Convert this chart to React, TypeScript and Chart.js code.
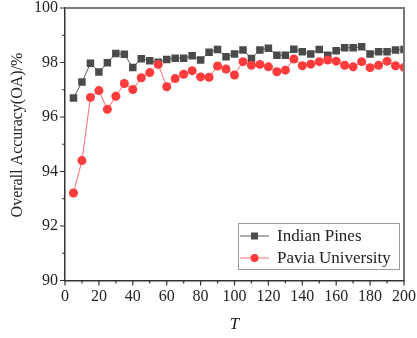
import React, { useEffect, useRef } from "react";
import { Chart, registerables } from "chart.js";

Chart.register(...registerables);

const tValues = [5, 10, 15, 20, 25, 30, 35, 40, 45, 50, 55, 60, 65, 70, 75, 80, 85, 90, 95, 100,
  105, 110, 115, 120, 125, 130, 135, 140, 145, 150, 155, 160, 165, 170, 175, 180, 185, 190, 195, 200];

const indianPines = [96.70, 97.28, 97.97, 97.65, 97.99, 98.33, 98.30, 97.82, 98.14, 98.06,
  98.01, 98.11, 98.16, 98.16, 98.25, 98.09, 98.38, 98.48, 98.21, 98.31,
  98.46, 98.15, 98.46, 98.52, 98.27, 98.27, 98.49, 98.39, 98.31, 98.48,
  98.27, 98.43, 98.54, 98.54, 98.58, 98.31, 98.39, 98.39, 98.46, 98.48];

const paviaUniversity = [93.21, 94.40, 96.72, 96.97, 96.28, 96.76, 97.23, 97.01, 97.44, 97.63,
  97.93, 97.11, 97.41, 97.57, 97.70, 97.47, 97.46, 97.87, 97.76, 97.54,
  98.03, 97.90, 97.93, 97.84, 97.66, 97.72, 98.13, 97.88, 97.94, 98.03,
  98.09, 98.05, 97.90, 97.84, 98.03, 97.81, 97.90, 98.05, 97.88, 97.82];

const seriesNames = ["Indian Pines", "Pavia University"];
const xTickValues = [0, 20, 40, 60, 80, 100, 120, 140, 160, 180, 200];
const yTickValues = [90, 92, 94, 96, 98, 100];
const yTitle = "Overall Accuracy(OA)/%";
const xTitle = "T";

const SERIF = "'Liberation Serif', 'Times New Roman', serif";
const GRAY_LINE = "#5a5a5a";
const GRAY_MARK = "#4a4a4a";
const RED_LINE = "#ff6b6b";
const RED_MARK = "#ff3b3b";

const zeroPad = (s: any) => {
  s.paddingTop = 0;
  s.paddingBottom = 0;
  s.paddingLeft = 0;
  s.paddingRight = 0;
};

const decorPlugin = {
  id: "decor",
  afterDraw(chart: any) {
    const { ctx, chartArea, scales } = chart;
    const xs = scales.x;
    const ys = scales.y;
    ctx.save();
    // top and right border
    ctx.strokeStyle = "#7a7a7a";
    ctx.lineWidth = 2;
    ctx.beginPath();
    ctx.moveTo(chartArea.left, chartArea.top);
    ctx.lineTo(chartArea.right, chartArea.top);
    ctx.lineTo(chartArea.right, chartArea.bottom);
    ctx.stroke();

    // ticks
    ctx.strokeStyle = "#333";
    ctx.lineWidth = 1.2;
    ctx.beginPath();
    for (let v = 0; v <= 200; v += 10) {
      const px = xs.getPixelForValue(v);
      const len = v % 20 === 0 ? 5 : 3;
      ctx.moveTo(px, chartArea.bottom);
      ctx.lineTo(px, chartArea.bottom + len);
    }
    for (let v = 90; v <= 100; v += 1) {
      const py = ys.getPixelForValue(v);
      const len = v % 2 === 0 ? 5 : 3;
      ctx.moveTo(chartArea.left, py);
      ctx.lineTo(chartArea.left - len, py);
    }
    ctx.stroke();

    // axis titles
    ctx.fillStyle = "#222";
    ctx.textAlign = "center";
    ctx.textBaseline = "middle";
    ctx.font = `16px ${SERIF}`;
    ctx.save();
    ctx.translate(18, 135);
    ctx.rotate(-Math.PI / 2);
    ctx.fillText(yTitle, 0, 0);
    ctx.restore();
    ctx.font = `italic 17px ${SERIF}`;
    ctx.fillText(xTitle, (chartArea.left + chartArea.right) / 2, 325);

    // legend
    const bx = 238, by = 223, bw = 161, bh = 46;
    ctx.fillStyle = "#fff";
    ctx.fillRect(bx, by, bw, bh);
    ctx.strokeStyle = "#999";
    ctx.lineWidth = 1;
    ctx.strokeRect(bx + 0.5, by + 0.5, bw, bh);
    const rows = [
      { y: 236, line: GRAY_LINE, mark: GRAY_MARK, square: true },
      { y: 258, line: RED_LINE, mark: RED_MARK, square: false },
    ];
    rows.forEach((r, i) => {
      ctx.strokeStyle = r.line;
      ctx.lineWidth = 1;
      ctx.beginPath();
      ctx.moveTo(240, r.y);
      ctx.lineTo(269, r.y);
      ctx.stroke();
      ctx.fillStyle = r.mark;
      if (r.square) {
        ctx.fillRect(254.5 - 3.5, r.y - 3.5, 7, 7);
      } else {
        ctx.beginPath();
        ctx.arc(254.5, r.y, 4, 0, Math.PI * 2);
        ctx.fill();
      }
      ctx.fillStyle = "#222";
      ctx.textAlign = "left";
      ctx.font = `17px ${SERIF}`;
      ctx.fillText(seriesNames[i], 277, r.y + 1);
    });
    ctx.restore();
  },
};

export default function App() {
  const ref = useRef<HTMLCanvasElement | null>(null);
  useEffect(() => {
    document.body.style.margin = "0";
    const canvas = ref.current;
    if (!canvas) return;
    const chart = new Chart(canvas, {
      type: "line",
      data: {
        datasets: [
          {
            label: seriesNames[0],
            data: tValues.map((t, i) => ({ x: t, y: indianPines[i] })),
            borderColor: GRAY_LINE,
            borderWidth: 1,
            backgroundColor: GRAY_MARK,
            pointBackgroundColor: GRAY_MARK,
            pointBorderColor: GRAY_MARK,
            pointStyle: "rect",
            pointRadius: 5.3,
            pointBorderWidth: 0,
            order: 2,
          },
          {
            label: seriesNames[1],
            data: tValues.map((t, i) => ({ x: t, y: paviaUniversity[i] })),
            borderColor: RED_LINE,
            borderWidth: 1,
            backgroundColor: RED_MARK,
            pointBackgroundColor: RED_MARK,
            pointBorderColor: RED_MARK,
            pointStyle: "circle",
            pointRadius: 4.5,
            pointBorderWidth: 0,
            order: 1,
          },
        ],
      },
      options: {
        animation: false,
        responsive: false,
        maintainAspectRatio: false,
        layout: { padding: { left: 0, right: 13, top: 8, bottom: 0 } },
        plugins: { legend: { display: false }, tooltip: { enabled: false } },
        scales: {
          x: {
            type: "linear",
            min: 0,
            max: 200,
            afterFit: (s: any) => { s.height = 57.5; zeroPad(s); },
            afterBuildTicks: (s: any) => { s.ticks = xTickValues.map((v) => ({ value: v })); },
            grid: { display: false, drawTicks: false },
            border: { display: true, color: "#333", width: 1.5 },
            ticks: { padding: 7, color: "#222", font: { family: SERIF, size: 16 }, maxRotation: 0, autoSkip: false },
          },
          y: {
            type: "linear",
            min: 90,
            max: 100,
            afterFit: (s: any) => { s.width = 65; zeroPad(s); },
            afterBuildTicks: (s: any) => { s.ticks = yTickValues.map((v) => ({ value: v })); },
            grid: { display: false, drawTicks: false },
            border: { display: true, color: "#333", width: 1.5 },
            ticks: { padding: 7, color: "#222", font: { family: SERIF, size: 16 } },
          },
        },
      },
      plugins: [decorPlugin],
    } as any);
    return () => chart.destroy();
  }, []);
  return <canvas ref={ref} width={417} height={338} style={{ display: "block" }} />;
}
